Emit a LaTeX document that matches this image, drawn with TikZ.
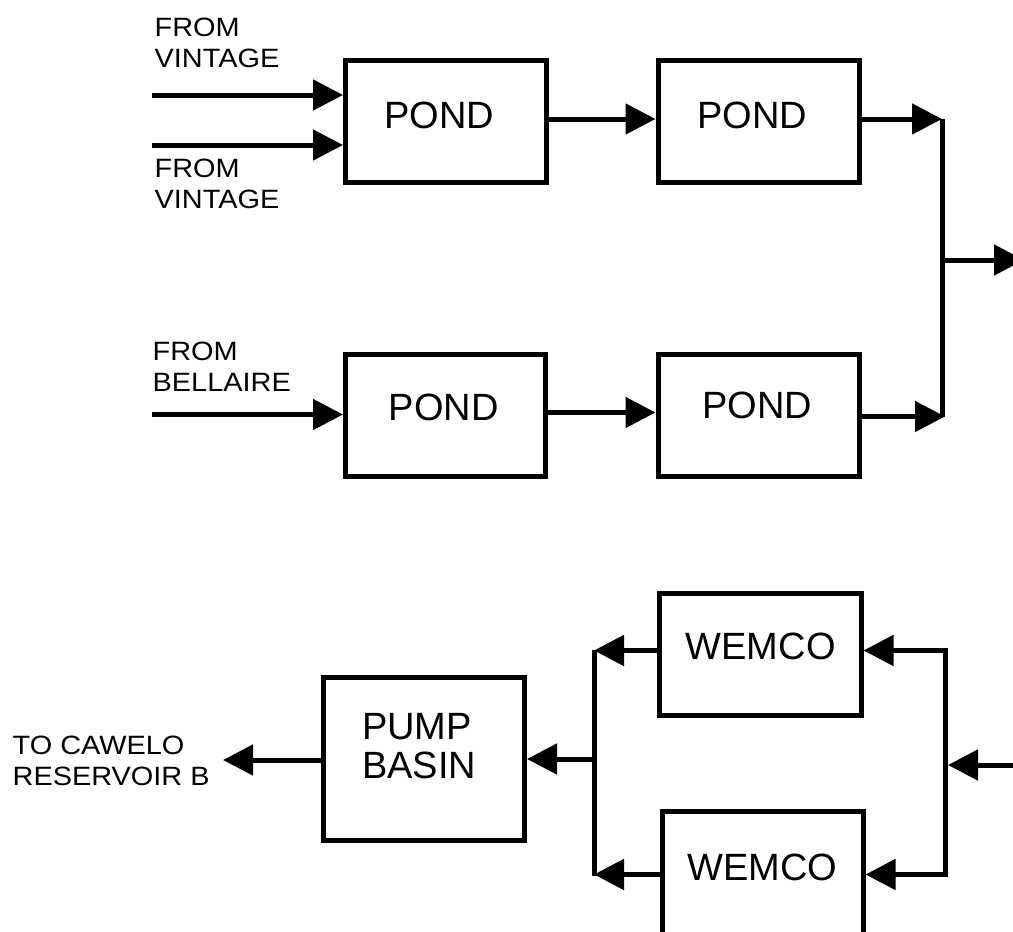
\documentclass[tikz,border=0pt]{standalone}
\usepackage{fontspec}
\setmainfont{Liberation Sans}
\newfontfamily\lblfont[FakeStretch=1.09]{Liberation Sans}
\usetikzlibrary{arrows.meta}
\begin{document}
\begin{tikzpicture}[x=1pt,y=-1pt,
  box/.style={draw, line width=5pt, inner sep=0pt, rectangle},
  boxtext/.style={anchor=base west, inner sep=0pt, font=\fontsize{38}{39}\selectfont, align=left},
  lbl/.style={anchor=base west, inner sep=0pt, font=\lblfont\fontsize{26.5}{31}\selectfont, align=left},
  flow/.style={line width=5pt, -{Triangle[length=30pt,width=30pt]}},
  pipe/.style={line width=5pt}]
\useasboundingbox (0,0) rectangle (1013,932);
\clip (0,0) rectangle (1013,932);

% boxes
\node[box, minimum width=200.5pt, minimum height=122.5pt] (p1) at (445.75,121.25) {};
\node[box, minimum width=201pt, minimum height=122.5pt] (p2) at (758.5,121.25) {};
\node[box, minimum width=200pt, minimum height=122pt] (p3) at (445.5,415) {};
\node[box, minimum width=201pt, minimum height=122pt] (p4) at (758.5,415) {};
\node[box, minimum width=201pt, minimum height=162.5pt] (pump) at (424,758.75) {};
\node[box, minimum width=201.5pt, minimum height=122pt] (w1) at (760.25,654) {};
\node[box, minimum width=201pt, minimum height=122.5pt] (w2) at (762.5,872.75) {};

% box texts (base = baseline of last line)
\node[boxtext] (tp1) at (384,128) {POND};
\node[boxtext] (tp2) at (697,128) {POND};
\node[boxtext] (tp3) at (388.7,420) {POND};
\node[boxtext] (tp4) at (702,418) {POND};
\node[boxtext] (tpump) at (362,778) {PUMP\\BASIN};
\node[boxtext] (tw1) at (685.5,659) {WEMCO};
\node[boxtext] (tw2) at (687,880) {WEMCO};

% labels
\node[lbl] (l1) at (154.5,67) {FROM\\VINTAGE};
\node[lbl] (l2) at (154.5,208) {FROM\\VINTAGE};
\node[lbl] (l3) at (152.5,391) {FROM\\BELLAIRE};
\node[lbl] (l4) at (12.5,785) {TO CAWELO\\RESERVOIR B};

% free ends and junctions
\coordinate (s1) at (152,95);
\coordinate (s2) at (152,145);
\coordinate (s3) at (152,414.5);
\coordinate (jt) at (942,119);
\coordinate (jb) at (942,417);
\coordinate (jm) at (942,260);
\coordinate (out) at (1024,260);
\coordinate (inw) at (1020,765);
\coordinate (rj) at (948,765);
\coordinate (rt) at (945,650.5);
\coordinate (rb) at (945,874.5);
\coordinate (lt) at (594,650.5);
\coordinate (lb) at (594,874.5);
\coordinate (lm) at (594,759);
\coordinate (toc) at (223,760);

% top network
\draw[flow] (s1) -- (p1.west |- s1);
\draw[flow] (s2) -- (p1.west |- s2);
\draw[flow] (p1.east |- 0,119) -- (p2.west |- 0,119);
\draw[flow] (s3) -- (p3.west |- s3);
\draw[flow] (p3.east |- 0,412.5) -- (p4.west |- 0,412.5);
\draw[flow] (p2.east |- jt) -- (jt);
\draw[flow] (p4.east |- 0,416.5) -- (945,416.5);
\draw[pipe] (jt) -- (jb);
\draw[flow] (jm) -- (out);

% bottom network
\draw[flow] (inw) -- (rj);
\draw[pipe, line join=miter, {Triangle[length=30pt,width=30pt]}-{Triangle[length=30pt,width=30pt]}]
  (w1.east |- rt) -- (rt) -- (rb) -- (w2.east |- rb);
\draw[flow] (w1.west |- lt) -- (lt);
\draw[flow] (w2.west |- lb) -- (lb);
\draw[pipe, line cap=rect] (594,652) -- (594,873);
\draw[flow] (lm) -- (pump.east |- lm);
\draw[flow] (pump.west |- toc) -- (toc);
\end{tikzpicture}
\end{document}
